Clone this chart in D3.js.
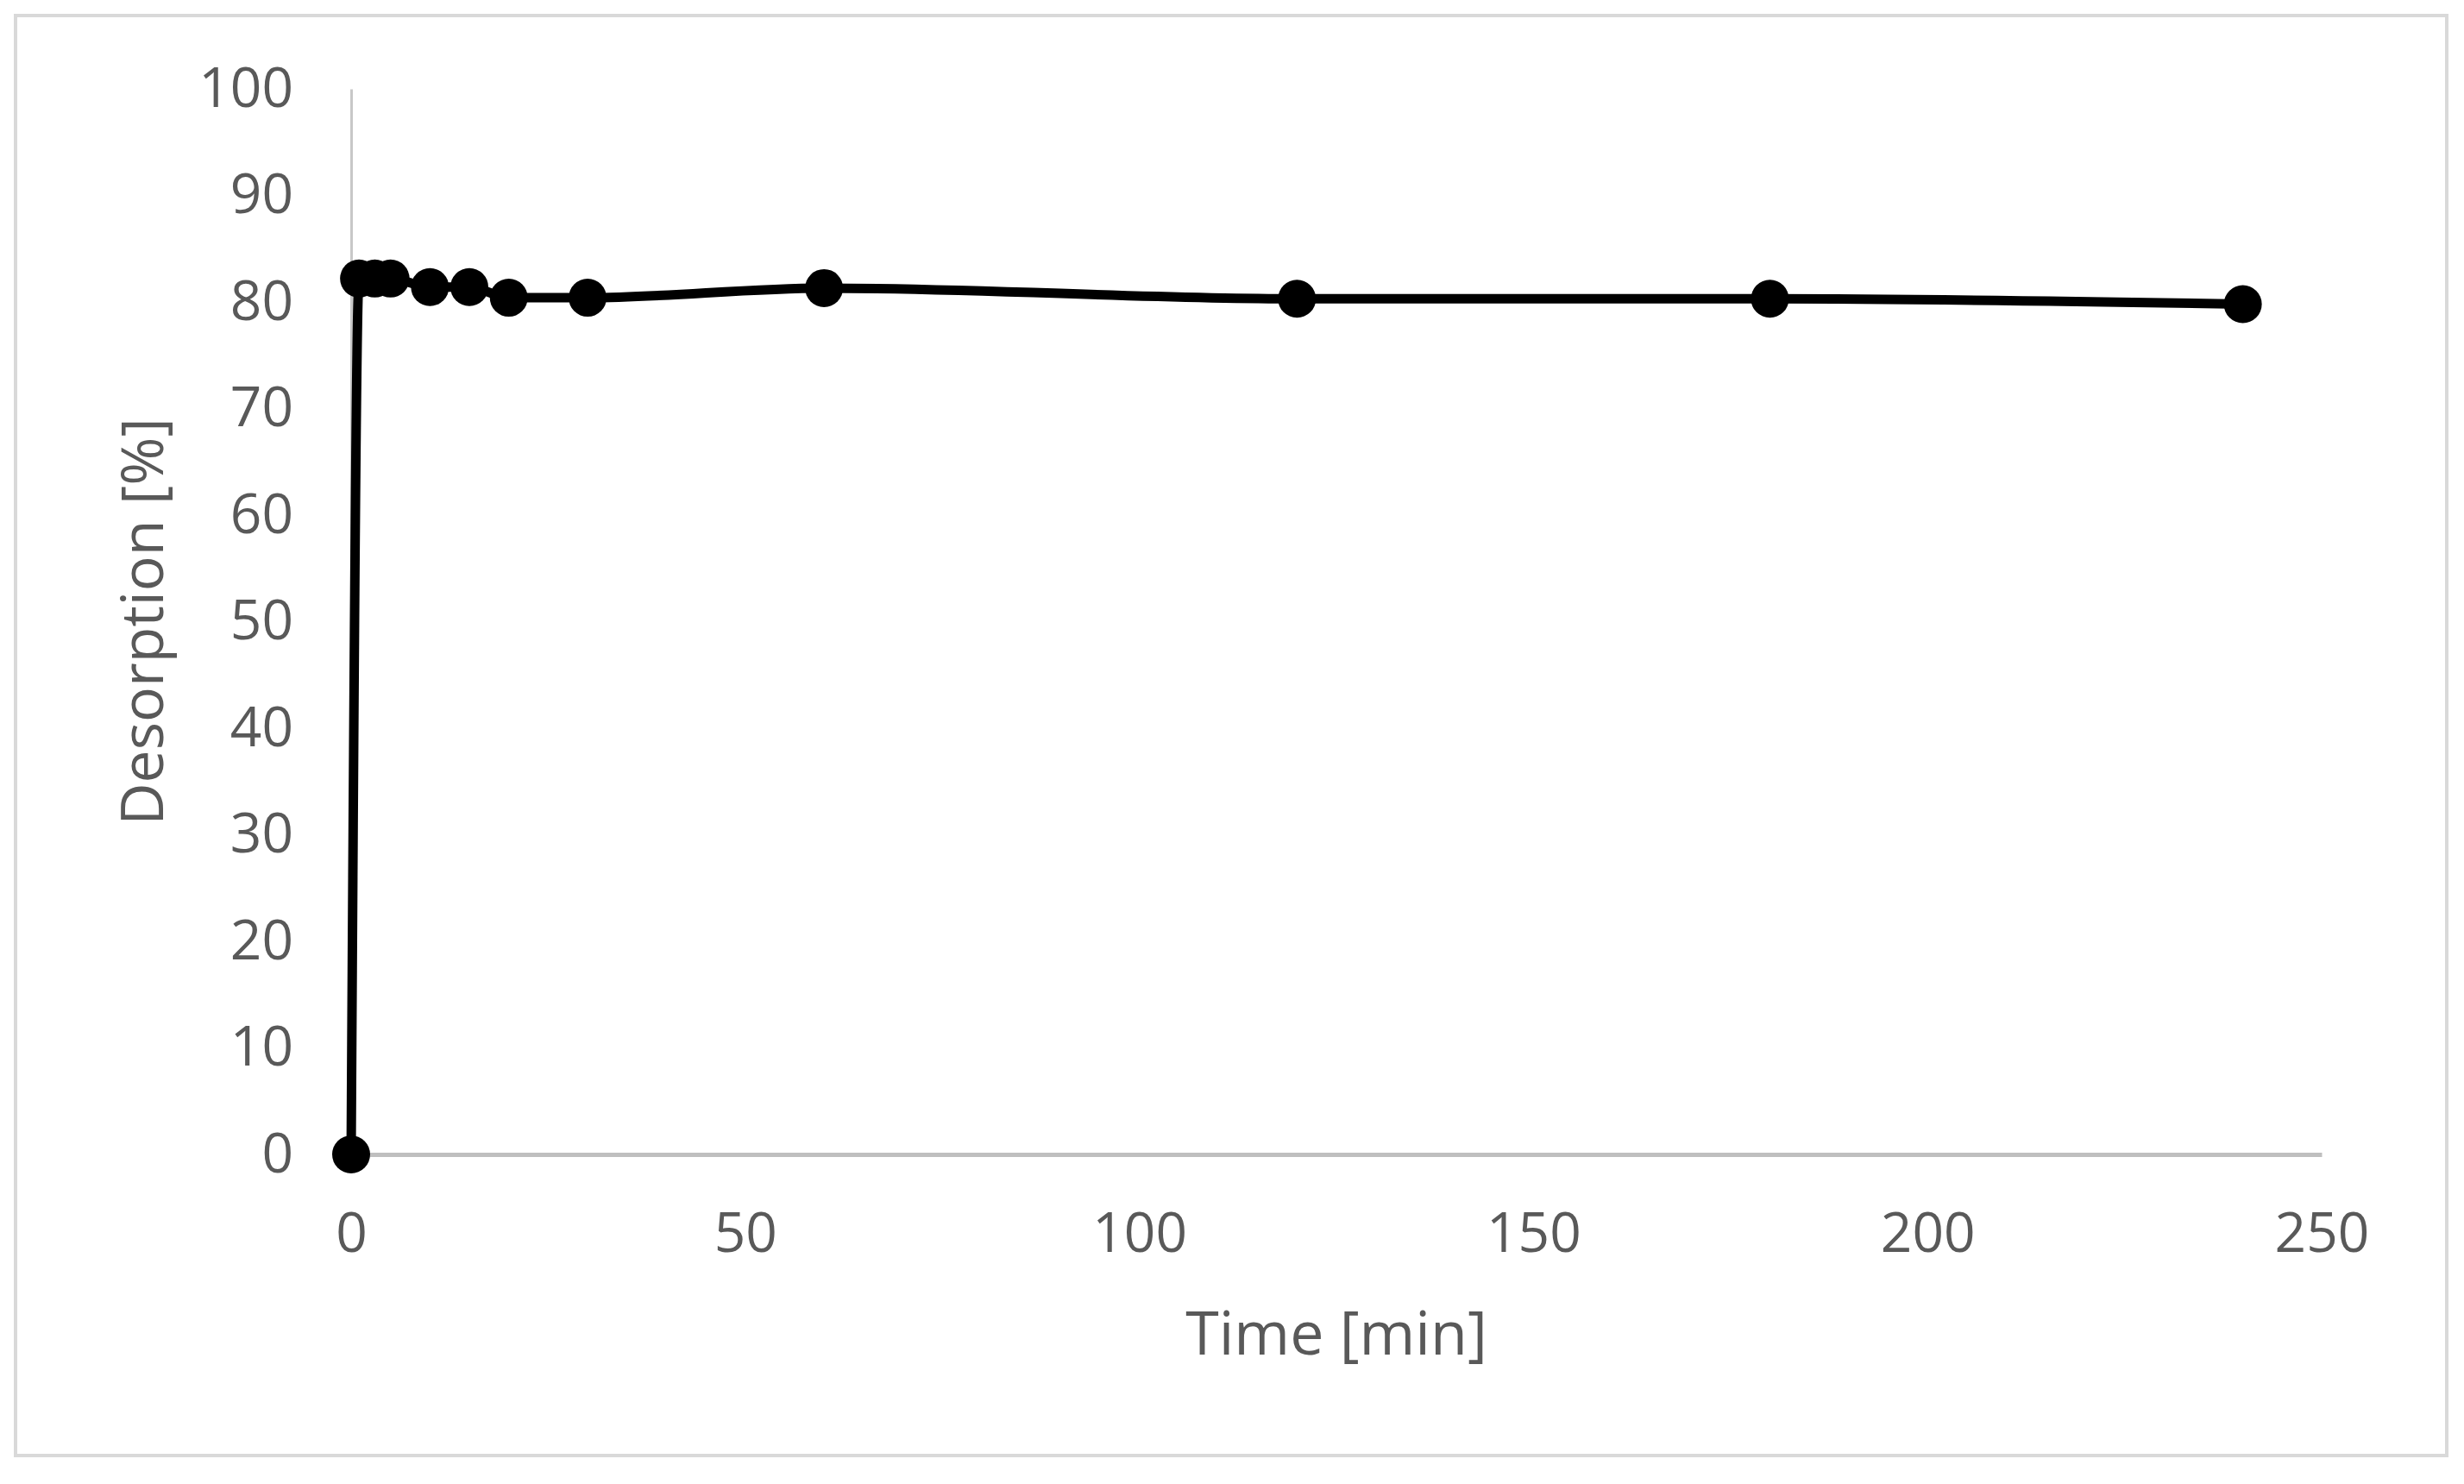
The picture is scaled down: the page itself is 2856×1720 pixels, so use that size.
<!DOCTYPE html>
<html>
<head>
<meta charset="utf-8">
<script src="https://cdn.jsdelivr.net/npm/d3@7"></script>
<style>
  html, body { margin: 0; padding: 0; background: #fff; }
  text { font-family: "Open Sans", "Noto Sans", sans-serif; fill: #595959; }
</style>
</head>
<body>
<svg id="mainsvg" width="2856" height="1720"></svg>
<script>
// data
const times = [0, 1, 3, 5, 10, 15, 20, 30, 60, 120, 180, 240];
const desorption = [0, 82.2, 82.2, 82.2, 81.4, 81.4, 80.4, 80.4, 81.3, 80.3, 80.3, 79.8];
const xTicks = [0, 50, 100, 150, 200, 250];
const yTicks = [0, 10, 20, 30, 40, 50, 60, 70, 80, 90, 100];

const svg = d3.select('#mainsvg');
const width = +svg.attr('width');
const height = +svg.attr('height');
const margin = { top: 103, right: 165, bottom: 382, left: 407 };
const innerWidth = width - margin.left - margin.right;
const innerHeight = height - margin.top - margin.bottom;

// chart frame
svg.append('rect')
  .attr('x', 18).attr('y', 18)
  .attr('width', 2818).attr('height', 1669)
  .attr('fill', '#fff')
  .attr('stroke', '#d9d9d9')
  .attr('stroke-width', 4);

const g = svg.append('g')
  .attr('transform', `translate(${margin.left}, ${margin.top})`);

const x = d3.scaleLinear().domain([0, 250]).range([0, innerWidth]);
const y = d3.scaleLinear().domain([0, 100]).range([innerHeight, 0]);

// y axis: thin line, no ticks
const yAxis = g.append('g').call(d3.axisLeft(y).tickValues(yTicks).tickSize(0).tickPadding(67));
yAxis.select('.domain').attr('stroke', '#c8c8c8').attr('stroke-width', 3);
yAxis.selectAll('text').style('font-size', '64px').attr('fill', '#595959');

// x axis at y = 0
const xAxis = g.append('g')
  .attr('transform', `translate(0, ${innerHeight})`)
  .call(d3.axisBottom(x).tickValues(xTicks).tickSize(0).tickPadding(68));
xAxis.select('.domain').attr('stroke', '#bfbfbf').attr('stroke-width', 5);
xAxis.selectAll('text').style('font-size', '64px').attr('fill', '#595959');

const data = times.map((t, i) => ({ t: t, v: desorption[i] }));

g.append('path')
  .datum(data)
  .attr('fill', 'none')
  .attr('stroke', '#000')
  .attr('stroke-width', 11)
  .attr('stroke-linejoin', 'round')
  .attr('d', d3.line().x(d => x(d.t)).y(d => y(d.v)).curve(d3.curveMonotoneX));

g.selectAll('circle').data(data).join('circle')
  .attr('cx', d => x(d.t))
  .attr('cy', d => y(d.v))
  .attr('r', 22)
  .attr('fill', '#000');

// axis titles
svg.append('text')
  .attr('x', margin.left + innerWidth / 2)
  .attr('y', 1543)
  .attr('text-anchor', 'middle')
  .attr('dominant-baseline', 'central')
  .style('font-size', '70px')
  .text('Time [min]');

svg.append('text')
  .attr('transform', `translate(162, ${margin.top + innerHeight / 2}) rotate(-90)`)
  .attr('text-anchor', 'middle')
  .attr('dominant-baseline', 'central')
  .style('font-size', '68px')
  .text('Desorption [%]');
</script>
</body>
</html>
